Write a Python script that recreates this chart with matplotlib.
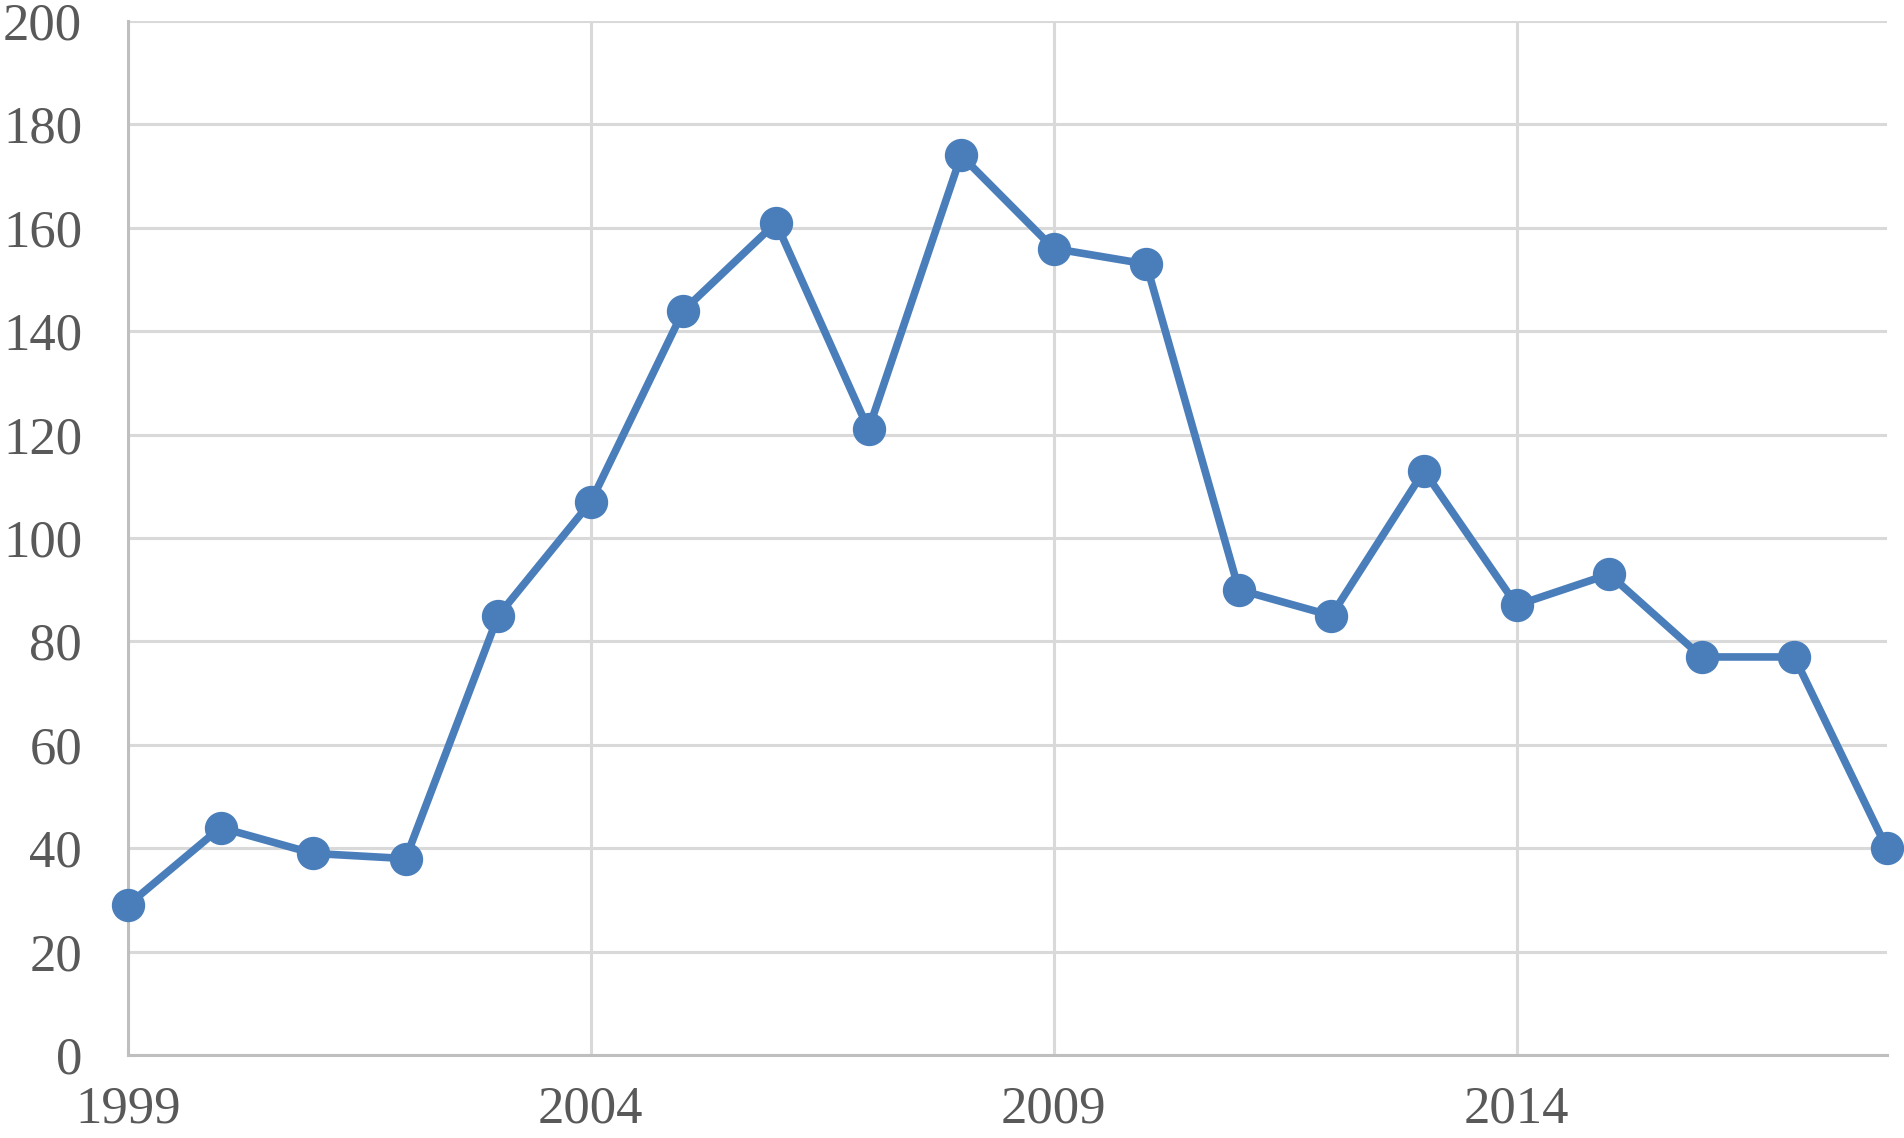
import matplotlib.pyplot as plt

# Data
years = list(range(1999, 2019))
counts = [29, 44, 39, 38, 85, 107, 144, 161, 121, 174,
          156, 153, 90, 85, 113, 87, 93, 77, 77, 40]
x_ticks = [1999, 2004, 2009, 2014]
y_ticks = list(range(0, 201, 20))

plt.rcParams['font.family'] = ['Liberation Serif', 'DejaVu Serif']

fig = plt.figure(figsize=(19.04, 11.38), dpi=100)
ax = fig.add_axes([0.0672, 0.0729, 0.9238, 0.9086])

ax.plot(years, counts, color='#4a7ebb', linewidth=5.5, marker='o',
        markersize=23, clip_on=False, zorder=3)

ax.set_xlim(1999, 2018)
ax.set_ylim(0, 200)
ax.set_xticks(x_ticks)
ax.set_yticks(y_ticks)

ax.grid(True, color='#d9d9d9', linewidth=2.2)
ax.set_axisbelow(True)

for side in ['top', 'right']:
    ax.spines[side].set_visible(False)
for side in ['left', 'bottom']:
    ax.spines[side].set_color('#bfbfbf')
    ax.spines[side].set_linewidth(2.2)

ax.tick_params(length=0, labelsize=38, labelcolor='#595959')
ax.tick_params(axis='y', pad=33)
ax.tick_params(axis='x', pad=22)

fig.savefig('out.png', dpi=100)
